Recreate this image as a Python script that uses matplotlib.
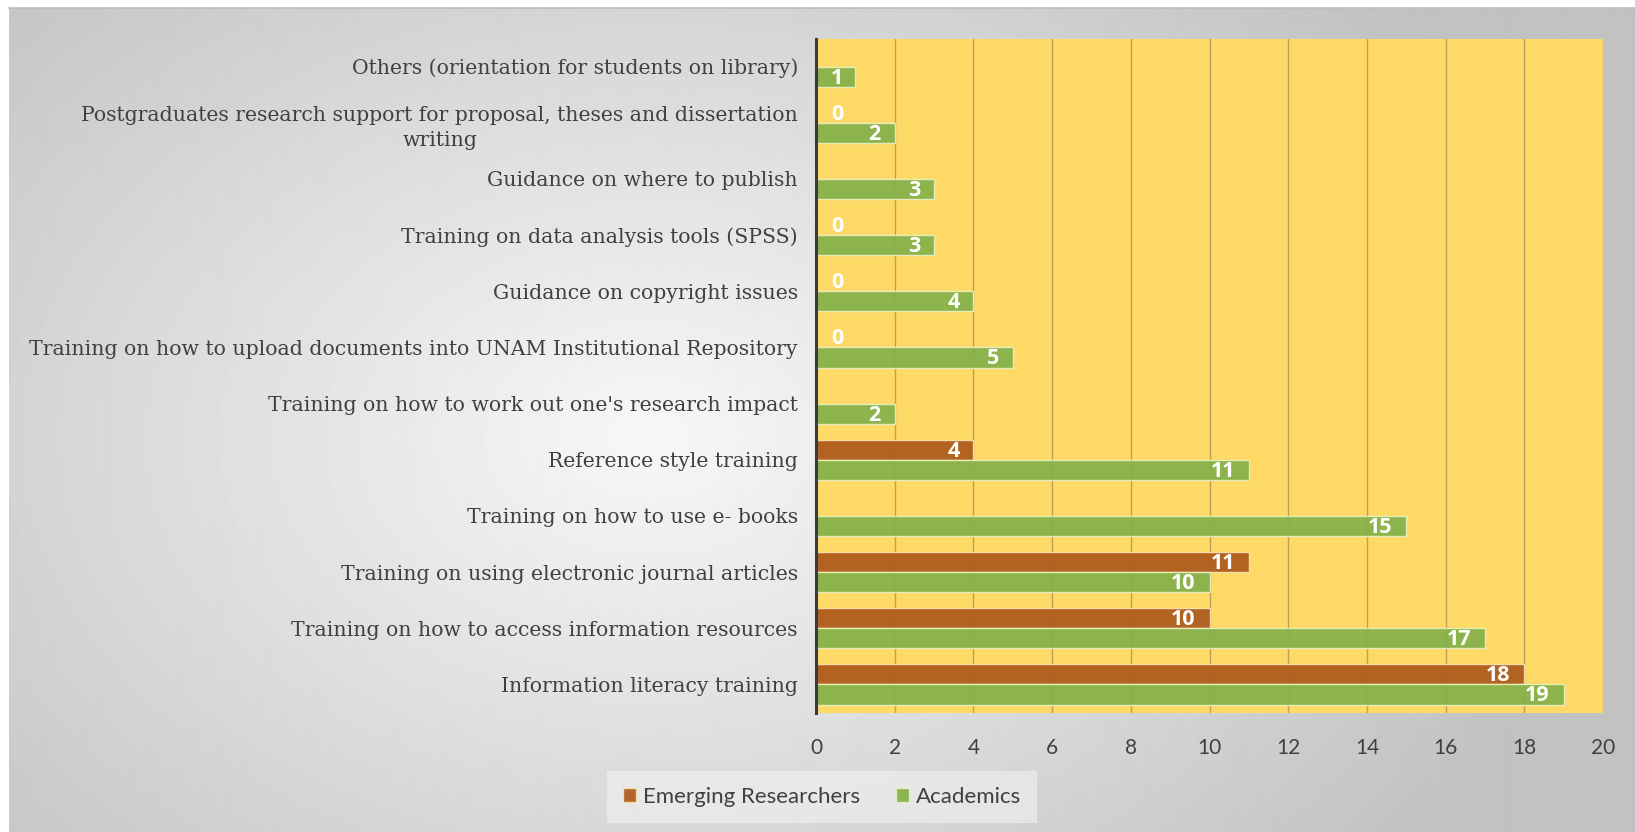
import numpy as np
import matplotlib
matplotlib.use('Agg')
import matplotlib.pyplot as plt

# categories listed bottom to top (as drawn on the y axis)
categories = [
    'Information literacy training',
    'Training on how to access information resources',
    'Training on using electronic journal articles',
    'Training on how to use e- books',
    'Reference style training',
    "Training on how to work out one's research impact",
    'Training on how to upload documents into UNAM Institutional Repository',
    'Guidance on copyright issues',
    'Training on data analysis tools (SPSS)',
    'Guidance on where to publish',
    'Postgraduates research support for proposal, theses and dissertation\nwriting',
    'Others (orientation for students on library)',
]
emerging = [18, 10, 11, np.nan, 4, np.nan, 0, 0, 0, np.nan, 0, np.nan]
academics = [19, 17, 10, 15, 11, 2, 5, 4, 3, 3, 2, 1]
series_names = ['Emerging Researchers', 'Academics']
xticks = list(range(0, 21, 2))

BROWN = '#AE5A1C'
GREEN = '#84B24A'
PLOT_BG = '#FFD966'
TEXT = '#404040'

W, H = 1635, 832
fig = plt.figure(figsize=(W / 100, H / 100), dpi=100)
fig.patch.set_facecolor('white')

# radial grey background of the chart area
bg = fig.add_axes([9 / W, 0, 1 - 9 / W, 1 - 8 / H])
yy, xx = np.mgrid[0:H - 8, 0:W - 9]
r = np.sqrt(((xx - 640) / 1000.0) ** 2 + ((yy - 430) / 700.0) ** 2)
shade = np.clip(0.97 - 0.22 * r, 0.76, 0.97)
bg.imshow(shade, cmap='gray', vmin=0, vmax=1, aspect='auto', interpolation='bilinear')
bg.set_axis_off()
fig.add_artist(plt.Line2D([9 / W, 1], [1 - 8 / H, 1 - 8 / H], transform=fig.transFigure,
                          color='#BDBDBD', linewidth=1.2))

ax = fig.add_axes([816 / W, 1 - 712.5 / H, (1603 - 816) / W, (712.5 - 38.5) / H])
ax.set_facecolor(PLOT_BG)

y = np.arange(len(categories))
h = 0.36
er = np.array(emerging, dtype=float)
ac = np.array(academics, dtype=float)
mask = ~np.isnan(er)
b1 = ax.barh(y[mask] + h / 2, er[mask], height=h, color=BROWN, edgecolor='#F7E3B0',
             linewidth=1, alpha=0.93, zorder=3, label=series_names[0])
b2 = ax.barh(y - h / 2, ac, height=h, color=GREEN, edgecolor='#E8F0C0',
             linewidth=1, alpha=0.93, zorder=3, label=series_names[1])


def put_labels(bars, vals):
    for bar, v in zip(bars, vals):
        yc = bar.get_y() + bar.get_height() / 2
        if v <= 1:
            ax.annotate(f'{int(v)}', (0, yc), xytext=(11, -1), textcoords='offset points',
                        ha='left', va='center', color='white', fontsize=15.5,
                        fontweight='bold', family='Open Sans', zorder=5)
        else:
            ax.annotate(f'{int(v)}', (v, yc), xytext=(-10, -1), textcoords='offset points',
                        ha='right', va='center', color='white', fontsize=15.5,
                        fontweight='bold', family='Open Sans', zorder=5)


put_labels(b1, er[mask])
put_labels(b2, ac)

ax.set_xlim(0, 20)
ax.set_ylim(-0.5, len(categories) - 0.5)
ax.set_xticks(xticks)
ax.set_xticklabels([str(t) for t in xticks], fontsize=15, color=TEXT, family='Lato')
ax.set_yticks(y)
ax.set_yticklabels(categories, fontsize=14.7, color=TEXT, family='DejaVu Serif')
for lab in ax.get_yticklabels():
    lab.set_multialignment('center')
    lab.set_linespacing(1.4)
ax.tick_params(axis='both', length=0)
ax.tick_params(axis='x', pad=18)
ax.tick_params(axis='y', pad=13)

ax.grid(axis='x', color='#8C7B4F', linewidth=1, alpha=0.6, zorder=1)
ax.set_axisbelow(True)
for s in ['top', 'right', 'bottom']:
    ax.spines[s].set_visible(False)
ax.spines['left'].set_color('#3A3A3A')
ax.spines['left'].set_linewidth(2.2)
ax.spines['left'].set_zorder(6)

leg = fig.legend(handles=[b1, b2], labels=series_names, loc='center',
                 bbox_to_anchor=(822 / W, 1 - 797 / H), ncol=2, frameon=True,
                 handlelength=0.6, handleheight=0.6, handletextpad=0.3,
                 columnspacing=1.6, borderpad=0.7,
                 prop={'family': 'Lato', 'size': 16})
leg.get_frame().set_facecolor('#F4F4F4')
leg.get_frame().set_edgecolor('none')
leg.get_frame().set_alpha(0.55)
leg.get_frame().set_boxstyle('square', pad=0)
for t in leg.get_texts():
    t.set_color(TEXT)

fig.savefig('out.png', dpi=100, facecolor=fig.get_facecolor())
